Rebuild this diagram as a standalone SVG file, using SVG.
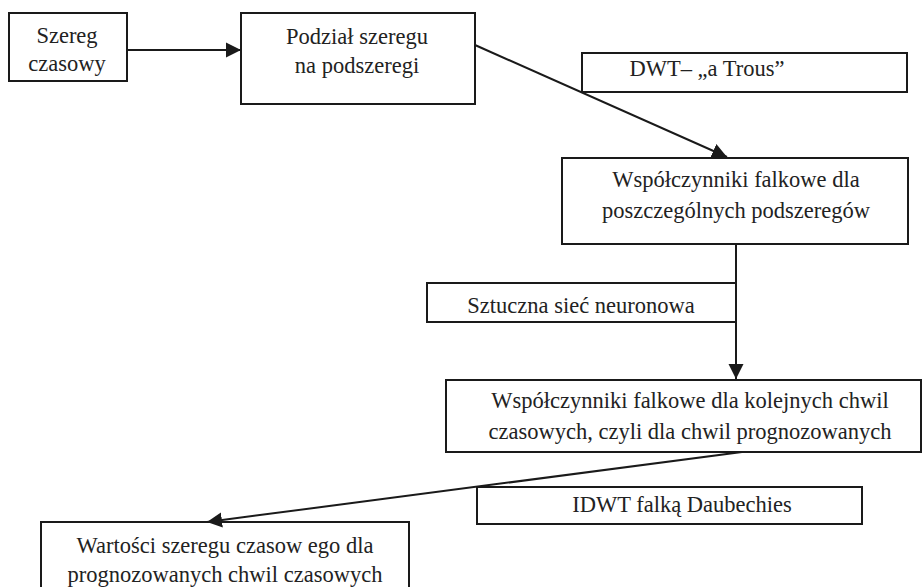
<svg xmlns="http://www.w3.org/2000/svg" width="923" height="587" viewBox="0 0 923 587">
<style>
.box{fill:#fff;stroke:#1a1a1a;stroke-width:2}
.t{font-size:22.5px;fill:#222;text-anchor:middle}
.c{stroke:#1a1a1a;stroke-width:2;fill:none}
</style>
<defs>
<marker id="ah" markerUnits="userSpaceOnUse" markerWidth="16" markerHeight="16" refX="15" refY="8" orient="auto">
<path d="M0,0.5 L15,8 L0,15.5 z" fill="#1a1a1a"/>
</marker>
</defs>
<rect width="923" height="587" fill="#fff"/>
<g font-family="Liberation Serif, DejaVu Serif, Times New Roman, serif">
<g id="n1"><rect class="box" x="9" y="13" width="118" height="68"/><text class="t" x="67" y="43">Szereg</text><text class="t" x="67" y="71">czasowy</text></g>
<g id="n2"><rect class="box" x="241" y="13" width="234" height="91"/><text class="t" x="357" y="44">Podział szeregu</text><text class="t" x="357" y="73">na podszeregi</text></g>
<g id="n3"><rect class="box" x="582" y="53" width="325" height="39"/><text class="t" x="707" y="76">DWT– „a Trous”</text></g>
<g id="n4"><rect class="box" x="562" y="158" width="346" height="86"/><text class="t" x="736" y="187">Współczynniki falkowe dla</text><text class="t" x="736" y="218">poszczególnych podszeregów</text></g>
<g id="n5"><rect class="box" x="427" y="283" width="309" height="39"/><text class="t" x="581" y="313">Sztuczna sieć neuronowa</text></g>
<g id="n6"><rect class="box" x="446" y="380" width="475" height="72"/><text class="t" x="690" y="408">Współczynniki falkowe dla kolejnych chwil</text><text class="t" x="690" y="439">czasowych, czyli dla chwil prognozowanych</text></g>
<g id="n7"><rect class="box" x="477" y="487" width="385" height="37"/><text class="t" x="682" y="512">IDWT falką Daubechies</text></g>
<g id="n8"><rect class="box" x="41" y="522" width="368" height="80"/><text class="t" x="225" y="553">Wartości szeregu czasow ego dla</text><text class="t" x="225" y="582">prognozowanych chwil czasowych</text></g>
</g>
<g id="connectors">
<line class="c" x1="127" y1="50" x2="241" y2="50" marker-end="url(#ah)"/>
<line class="c" x1="475" y1="45" x2="727" y2="157" marker-end="url(#ah)"/>
<line class="c" x1="736" y1="244" x2="736" y2="379" marker-end="url(#ah)"/>
<line class="c" x1="742" y1="452" x2="207" y2="522" marker-end="url(#ah)"/>
</g>
</svg>
